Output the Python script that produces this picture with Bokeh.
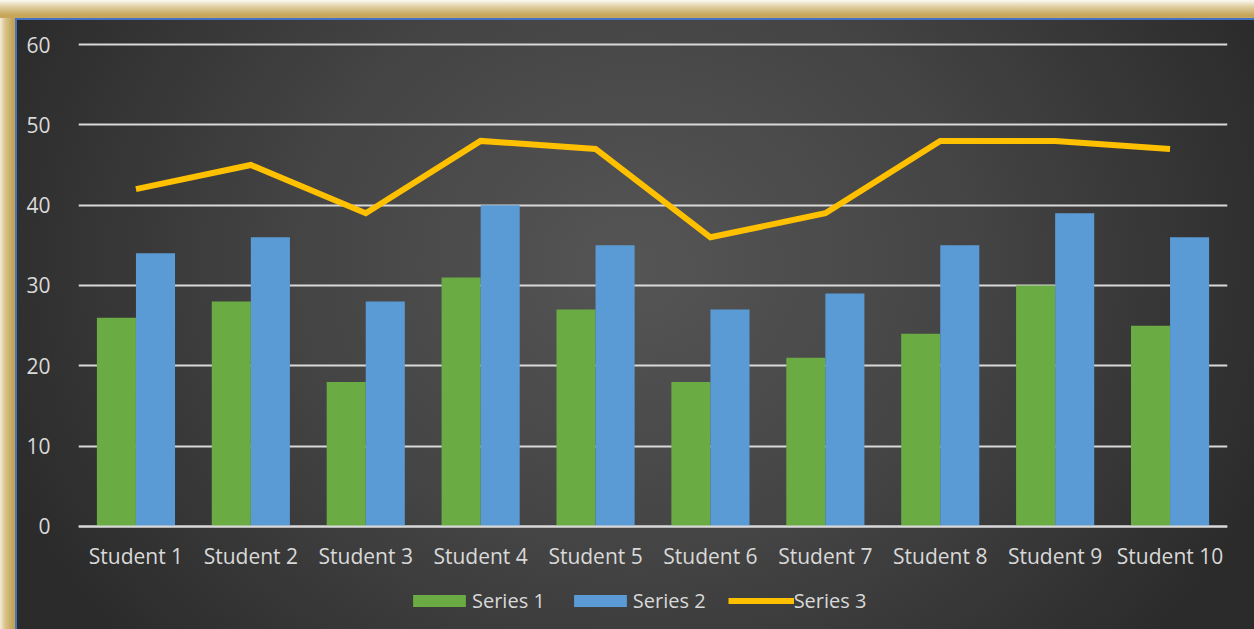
from bokeh.plotting import figure
from bokeh.models import FactorRange, Range1d, Legend, LegendItem, ColumnDataSource, FixedTicker
from bokeh.transform import dodge
from bokeh.embed import file_html
from bokeh.resources import INLINE

students = ["Student 1", "Student 2", "Student 3", "Student 4", "Student 5",
            "Student 6", "Student 7", "Student 8", "Student 9", "Student 10"]
series1 = [26, 28, 18, 31, 27, 18, 21, 24, 30, 25]
series2 = [34, 36, 28, 40, 35, 27, 29, 35, 39, 36]
series3 = [42, 45, 39, 48, 47, 36, 39, 48, 48, 47]
y_ticks = [0, 10, 20, 30, 40, 50, 60]
series_names = ["Series 1", "Series 2", "Series 3"]

FONT = "Open Sans"
TXT = "#d9d9d9"

src = ColumnDataSource(dict(x=students, s1=series1, s2=series2, s3=series3))

# y range extends below 0 so that the legend area lies inside the frame
p = figure(x_range=FactorRange(factors=students, range_padding=0),
           y_range=Range1d(-12.822, 60.249),
           width=1254, height=629, title=None,
           output_backend="svg", toolbar_location=None,
           min_border_left=78, min_border_right=27,
           min_border_top=42, min_border_bottom=0)

p.background_fill_color = None
p.border_fill_color = None
p.outline_line_color = None
p.styles = {
    "background": (
        "radial-gradient(ellipse 55% 95% at 50% 40%, #555555 0%, #444444 50%, #2b2b2b 100%) "
        "17px 20px / calc(100% - 17px) calc(100% - 20px) no-repeat, "
        "linear-gradient(#4472c4, #4472c4) 15px 18px / calc(100% - 15px) calc(100% - 18px) no-repeat, "
        "linear-gradient(to bottom, #fbf9f3 0px, #e2d3a8 6px, #c6a65a 15px) 0 0 / 100% 18px no-repeat, "
        "linear-gradient(to right, #f3ecd8 0px, #d9c48c 5px, #c2a255 13px) 0 0 / 15px 100% no-repeat, "
        "#c6a65a"
    ),
}

r1 = p.vbar(x=dodge("x", -0.17, range=p.x_range), top="s1", width=0.34, source=src,
            fill_color="#6aab44", line_color=None)
r2 = p.vbar(x=dodge("x", 0.17, range=p.x_range), top="s2", width=0.34, source=src,
            fill_color="#5b9bd5", line_color=None)
r3 = p.line(x="x", y="s3", source=src, line_width=6, line_color="#ffc000",
            line_join="miter")

p.xgrid.visible = False
p.ygrid.ticker = FixedTicker(ticks=y_ticks)
p.ygrid.grid_line_color = "#d9d9d9"
p.ygrid.grid_line_width = 2

p.yaxis.ticker = FixedTicker(ticks=y_ticks)
p.yaxis.axis_line_color = None
p.yaxis.major_tick_line_color = None
p.yaxis.minor_tick_line_color = None
p.yaxis.major_label_standoff = 22
p.yaxis.major_label_text_font = FONT
p.yaxis.major_label_text_font_size = "21px"
p.yaxis.major_label_text_color = TXT

p.xaxis.fixed_location = 0
p.xaxis.axis_line_color = "#d9d9d9"
p.xaxis.axis_line_width = 2
p.xaxis.major_tick_line_color = None
p.xaxis.minor_tick_line_color = None
p.xaxis.major_label_standoff = 10
p.xaxis.major_label_text_font = FONT
p.xaxis.major_label_text_font_size = "21px"
p.xaxis.major_label_text_color = TXT

legend = Legend(items=[LegendItem(label=series_names[0], renderers=[r1]),
                       LegendItem(label=series_names[1], renderers=[r2]),
                       LegendItem(label=series_names[2], renderers=[r3])],
                orientation="horizontal", location=(328, 15),
                glyph_width=66, glyph_height=15, label_standoff=0, spacing=22,
                padding=0, margin=0,
                background_fill_alpha=0, border_line_alpha=0,
                label_text_font=FONT, label_text_font_size="20px",
                label_text_color=TXT)
p.add_layout(legend, "center")

open("out.html", "w").write(file_html(p, INLINE))
